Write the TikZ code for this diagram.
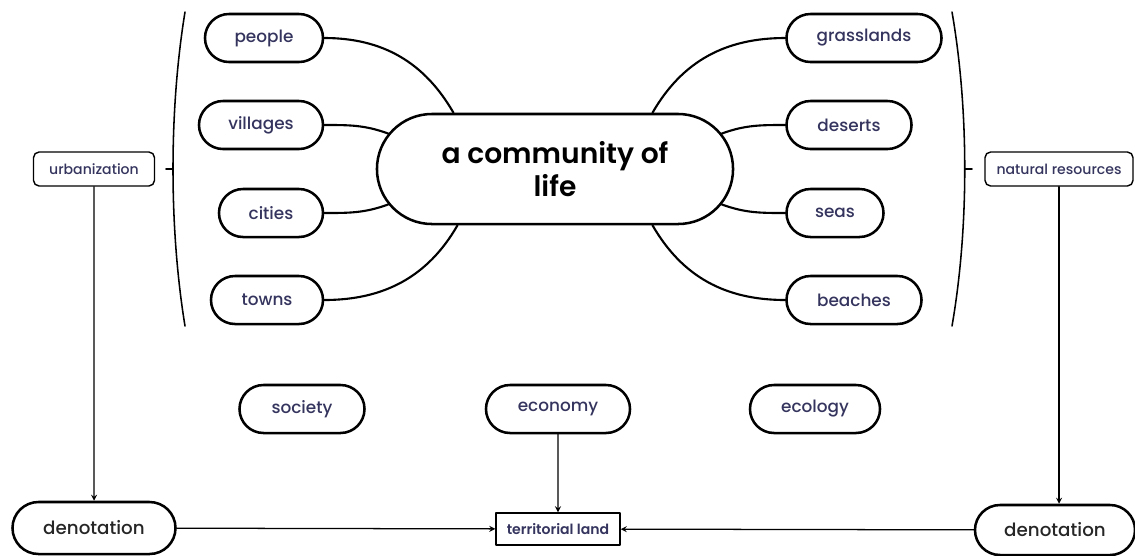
\documentclass[tikz,border=0pt]{standalone}
\usepackage{fontspec}
\setmainfont{Poppins}[BoldFont={Poppins SemiBold}]
\newfontfamily\medfont{Poppins Medium}
\usetikzlibrary{shapes.misc}
\definecolor{labelnavy}{HTML}{34345E}
\tikzset{
	pill/.style={rounded rectangle, draw, line width=1.8pt, inner sep=0pt, minimum height=1.2cm, text=labelnavy, font=\medfont\fontsize{12}{14}\selectfont},
	tagbox/.style={draw, rounded corners=4pt, line width=1pt, inner sep=0pt, minimum height=0.85cm, text=labelnavy, font=\medfont\fontsize{10}{12}\selectfont},
	link/.style={line width=1.5pt},
	arr/.style={->, line width=0.9pt},
}
\begin{document}
\begin{tikzpicture}[x=0.025cm, y=-0.025cm, line join=round, line cap=round, >=stealth]
	\useasboundingbox (0,0) rectangle (1135,555);
	% hub
	\node[pill, minimum width=8.9cm, minimum height=2.75cm, text=black, align=center, font=\fontsize{20}{24}\selectfont\bfseries] (hub) at (555,169) {a community of\\life};
	% left leaves
	\node[pill, minimum width=2.95cm] (people) at (264,38) {people};
	\node[pill, minimum width=3.1cm] (villages) at (261,125) {villages};
	\node[pill, minimum width=2.6cm] (cities) at (271,213) {cities};
	\node[pill, minimum width=2.8cm] (towns) at (267,300) {towns};
	% right leaves
	\node[pill, minimum width=3.875cm] (grasslands) at (864,38) {grasslands};
	\node[pill, minimum width=3.125cm] (deserts) at (849,125) {deserts};
	\node[pill, minimum width=2.425cm] (seas) at (835,213) {seas};
	\node[pill, minimum width=3.375cm] (beaches) at (854,300) {beaches};
	\foreach \leaf/\ang/\bend in {people/151/120, villages/168/160, cities/192/200, towns/210/240}
		\draw[link] (\leaf.east) to[out=0,in=\bend] (hub.\ang);
	\foreach \leaf/\ang/\bend in {grasslands/30/60, deserts/12/20, seas/-12/-20, beaches/-30/-60}
		\draw[link] (\leaf.west) to[out=180,in=\bend] (hub.\ang);
	% brackets
	\draw[line width=1.1pt] (185,12) .. controls (169,110) and (169,228) .. (185,326);
	\draw[line width=1.1pt] (166,169) -- (173,169);
	\draw[line width=1.1pt] (952,12) .. controls (969,110) and (969,228) .. (952,326);
	\draw[line width=1.1pt] (965,169) -- (972,169);
	% side tags
	\node[tagbox, minimum width=3.025cm] (urban) at (94,169) {urbanization};
	\node[tagbox, minimum width=3.7cm] (natres) at (1059,169) {natural resources};
	% middle row
	\node[pill, minimum width=3.125cm] (society) at (302,409) {society};
	\node[pill, minimum width=3.6cm] (economy) at (558,409) {economy};
	\node[pill, minimum width=3.25cm] (ecology) at (815,409) {ecology};
	% bottom row
	\node[pill, minimum width=4.075cm, minimum height=1.3cm, text=black!85, font=\medfont\fontsize{13}{15}\selectfont] (denL) at (94,528) {denotation};
	\node[pill, minimum width=4cm, minimum height=1.25cm, text=black!85, font=\medfont\fontsize{13}{15}\selectfont] (denR) at (1055,530) {denotation};
	\node[draw, line width=1pt, inner sep=0pt, minimum width=3.1cm, minimum height=0.8cm, text=labelnavy, font=\fontsize{10}{12}\selectfont\bfseries] (land) at (558,529) {territorial land};
	\draw[arr] (urban) -- (denL);
	\draw[arr] (natres) -- (natres |- denR.north);
	\draw[arr] (economy) -- (land);
	\draw[arr] (denL) -- (land);
	\draw[arr] (denR) -- (land);
\end{tikzpicture}
\end{document}
